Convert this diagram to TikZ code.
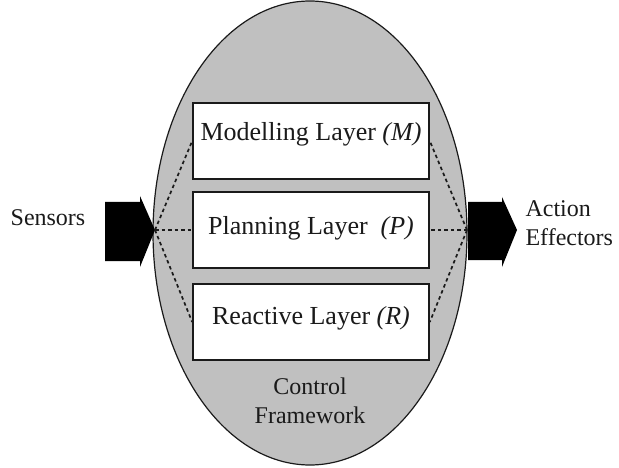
\documentclass[tikz,border=0pt]{standalone}
\usepackage{fontspec}
\setmainfont{Liberation Serif}
\usepackage{tikz}
\usetikzlibrary{positioning}
\definecolor{shell}{HTML}{C0C0C0}
\definecolor{ink}{HTML}{1A1A1A}
\tikzset{
  frame/.style={draw=ink, fill=shell, line width=1.2pt},
  layer/.style={draw=ink, fill=white, line width=1.6pt, minimum width=236pt, minimum height=76pt, inner sep=0pt},
  lab/.style={text=ink, font=\fontsize{26}{30}\selectfont},
  labo/.style={text=ink, font=\fontsize{24}{29}\selectfont},
  link/.style={draw=ink, dash pattern=on 3.5pt off 3pt, line width=1.7pt},
  blk/.style={fill=black},
}

\begin{document}
\begin{tikzpicture}[x=1pt,y=-1pt]
  \useasboundingbox (0,0) rectangle (619,468);
  \draw[frame] (310,233) ellipse [x radius=157, y radius=232];
  \coordinate (sens) at (155,230);
  \coordinate (act) at (467,230);
  % the three layers
  \node[layer] (mod) at (311,141) {};
  \node[layer] (pln) at (311,230) {};
  \node[layer] (rea) at (311,322) {};
  \node[lab] (modt) at ([yshift=7pt]mod.center) {Modelling Layer \textit{(M)}};
  \node[lab] (plnt) at ([yshift=2pt]pln.center) {Planning Layer\ \ \textit{(P)}};
  \node[lab] (reat) at ([yshift=4pt]rea.center) {Reactive Layer \textit{(R)}};
  % in and out arrows
  \fill[blk] (105,202) -- (140,202) -- (140,196) -- (sens) -- (140,267) -- (140,261) -- (105,261) -- cycle;
  \fill[blk] (act) ++(1,-28) -- (502,202) -- (502,197) -- (517,230) -- (502,267) -- (502,260) -- (468,260) -- cycle;
  \draw[link] (sens) -- (mod.west);
  \draw[link] (sens) -- (pln.west);
  \draw[link] (sens) -- (rea.west);
  \draw[link] (act) -- (mod.east);
  \draw[link] (act) -- (pln.east);
  \draw[link] (act) -- (rea.east);
  \node[labo] (sensl) at (48,218) {Sensors};
  \node[labo, align=left, anchor=west] (actl) at (522,223) {Action\\Effectors};
  \node[labo, align=center] (ctl) at (310,401) {Control\\Framework};
\end{tikzpicture}
\end{document}
